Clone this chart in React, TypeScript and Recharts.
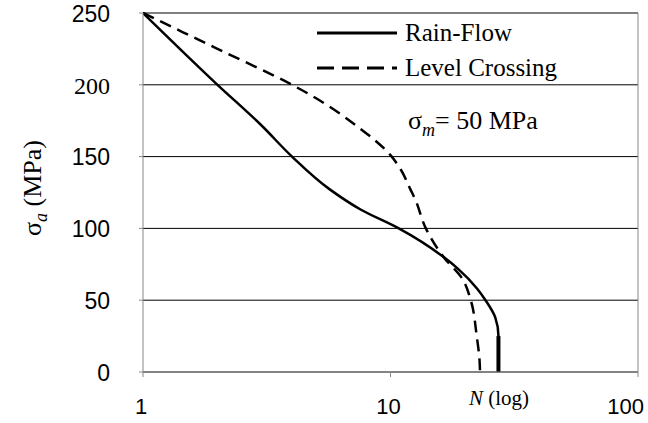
import React from "react";
import {
  LineChart,
  Line,
  XAxis,
  YAxis,
  CartesianGrid,
  ReferenceLine,
  Legend,
} from "recharts";

const rainN = [1, 2, 3, 4, 5.7, 7.6, 10.8, 16.4, 18.7, 22.4, 24.2, 26.5, 27.3, 27.3];
const rainS = [250, 200, 172, 150, 127, 113, 100, 80, 72, 58, 50, 38, 25, 0];

const rainTailN = [27.3, 27.3];
const rainTailS = [25, 0];

const levelN = [1, 2, 4, 4.74, 7.35, 10, 11, 12.05, 12.6, 13.9, 16.4, 19.5, 21.1, 22.3, 22.9, 23];
const levelS = [250, 225, 200, 193, 171, 151, 141, 127, 120, 100, 80, 65, 50, 25, 8, 0];

const xTicks = [1, 10, 100];
const yTicks = [0, 50, 100, 150, 200, 250];

const rainData = rainN.map((n, i) => ({ n, s: rainS[i] }));
const rainTail = rainTailN.map((n, i) => ({ n, s: rainTailS[i] }));
const levelData = levelN.map((n, i) => ({ n, s: levelS[i] }));

const SANS = "Arial, 'Liberation Sans', sans-serif";
const SERIF = "'Times New Roman', 'Liberation Serif', 'DejaVu Serif', serif";

const YTick = (props: any) => {
  const { x, y, payload } = props;
  const serif = payload.value === 200;
  return (
    <text
      x={x}
      y={y}
      dy="0.38em"
      textAnchor="end"
      fontSize={serif ? 24 : 23}
      fontFamily={serif ? SERIF : SANS}
      fill="#000"
    >
      {payload.value}
    </text>
  );
};

const XTick = (props: any) => {
  const { x, y, payload } = props;
  // last label is pulled inside the frame, as in the original
  const last = payload.value === 100;
  return (
    <text
      x={last ? x + 8 : x - 2}
      y={y}
      dy="0.71em"
      textAnchor={last ? "end" : "middle"}
      fontSize={22}
      fontFamily={SANS}
      fill="#000"
    >
      {payload.value}
    </text>
  );
};

const YLabel = () => (
  <text
    transform="translate(41,188) rotate(-90)"
    textAnchor="middle"
    fontSize={26}
    fontFamily={SERIF}
    fill="#000"
  >
    σ
    <tspan fontStyle="italic" fontSize={18} dy={6}>
      a
    </tspan>
    <tspan dy={-6}> (MPa)</tspan>
  </text>
);

const XLabel = () => (
  <text x={499} y={405} textAnchor="middle" fontSize={21} fontFamily={SERIF} fill="#000">
    <tspan fontStyle="italic">N</tspan> (log)
  </text>
);

const renderLegend = () => (
  <div style={{ fontFamily: SERIF, fontSize: 25, color: "#000", lineHeight: "35px" }}>
    <div style={{ display: "flex", alignItems: "center" }}>
      <svg width={88} height={10}>
        <line x1={0} y1={5} x2={80} y2={5} stroke="#000" strokeWidth={3} />
      </svg>
      <span>Rain-Flow</span>
    </div>
    <div style={{ display: "flex", alignItems: "center" }}>
      <svg width={88} height={10}>
        <line x1={0} y1={5} x2={80} y2={5} stroke="#000" strokeWidth={3} strokeDasharray="17 8" />
      </svg>
      <span>Level Crossing</span>
    </div>
  </div>
);

export default function App() {
  return (
    <div style={{ position: "absolute", left: 0, top: 0, width: 648, height: 423, background: "#fff" }}>
      <LineChart width={648} height={423} margin={{ top: 13, right: 10, bottom: 11, left: 0 }}>
        <CartesianGrid horizontal vertical={false} stroke="#000" strokeWidth={1} />
        <XAxis
          dataKey="n"
          type="number"
          scale="log"
          domain={[1, 100]}
          ticks={xTicks}
          allowDataOverflow
          height={40}
          stroke="#888"
          tickSize={5}
          tickMargin={21}
          tick={<XTick />}
          label={<XLabel />}
        />
        <YAxis
          type="number"
          domain={[0, 250]}
          ticks={yTicks}
          width={143}
          stroke="#888"
          tickSize={4}
          tickMargin={29}
          tick={<YTick />}
          label={<YLabel />}
        />
        <ReferenceLine x={100} stroke="#888" />
        <Legend
          content={renderLegend}
          layout="vertical"
          align="center"
          verticalAlign="middle"
          wrapperStyle={{ left: 317, top: 15, width: 280 }}
        />
        <Line
          data={rainData}
          dataKey="s"
          type="monotoneY"
          stroke="#000"
          strokeWidth={2.5}
          dot={false}
          isAnimationActive={false}
        />
        <Line
          data={rainTail}
          dataKey="s"
          type="linear"
          stroke="#000"
          strokeWidth={4}
          dot={false}
          legendType="none"
          isAnimationActive={false}
        />
        <Line
          data={levelData}
          dataKey="s"
          type="monotoneY"
          stroke="#000"
          strokeWidth={2.5}
          strokeDasharray="12 7"
          dot={false}
          isAnimationActive={false}
        />
      </LineChart>
      <svg
        width={230}
        height={40}
        style={{ position: "absolute", left: 400, top: 100, overflow: "visible" }}
      >
        <text x={8} y={29} fontSize={26} fontFamily={SERIF} fill="#000">
          σ
          <tspan fontStyle="italic" fontSize={18} dy={7}>
            m
          </tspan>
          <tspan dy={-7}>= 50 MPa</tspan>
        </text>
      </svg>
    </div>
  );
}
